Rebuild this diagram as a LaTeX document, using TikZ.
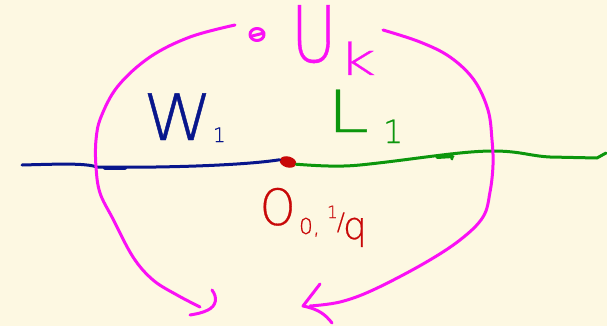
\documentclass[tikz,border=0pt]{standalone}
\usepackage{fontspec}
\setmainfont{DejaVu Sans ExtraLight}[FakeBold=0.6]
\usetikzlibrary{shapes.geometric}
\definecolor{bg}{RGB}{253,248,226}
\definecolor{navy}{RGB}{8,22,140}
\definecolor{grn}{RGB}{12,150,12}
\definecolor{redd}{RGB}{200,8,8}
\definecolor{mag}{RGB}{250,16,245}
\begin{document}
\begin{tikzpicture}[x=1pt,y=-1pt,
  ink/.style={line width=3pt,line cap=round,line join=round},
  lbl/.style={anchor=base west,inner sep=0pt,outer sep=0pt}]
\fill[bg] (0,0) rectangle (607,326);
\useasboundingbox (0,0) rectangle (607,326);
% red point
\node[ellipse,fill=redd,minimum width=17pt,minimum height=11pt,inner sep=0pt,rotate=-15] (dot) at (288,162) {};
% blue line W1
\coordinate (bstart) at (22,165);
\draw[ink,navy] (bstart) .. controls (60,164) and (85,163) .. (97,167)
   .. controls (150,168) and (240,166) .. (dot.west);
\draw[ink,navy,line width=4pt] (105,167.5) -- (125,167.5);
% green line L1
\coordinate (gend) at (606,153);
\draw[ink,grn] (dot.east) .. controls (320,166) and (340,167) .. (360,165)
   .. controls (410,160) and (460,151) .. (493,151)
   .. controls (520,151) and (530,156) .. (550,157)
   -- (597,158) -- (gend);
\draw[ink,grn] (437,157.5) -- (453,156.5);
\draw[ink,grn] (451,154) -- (452,159);
% magenta arcs
\coordinate (la) at (235,25);
\coordinate (lb) at (200,307);
\draw[ink,mag] plot[smooth,tension=0.6] coordinates {(la) (190,37) (150,57) (118,86) (101,117) (96,140) (96,167) (100,193) (113,219) (133,257) (153,280) (177,295) (lb)};
\draw[ink,mag] (212,290) .. controls (218,298) and (216,306) .. (208,310) .. controls (202,313) and (196,314) .. (190,315);
\coordinate (ra) at (383,30);
\coordinate (rb) at (310,306);
\draw[ink,mag] plot[smooth,tension=0.6] coordinates {(ra) (420,42) (450,57) (474,80) (488,110) (492,140) (493,165) (490,192) (483,217) (460,240) (423,264) (373,290) (340,302) (rb)};
\draw[ink,mag] (320,284) -- (303,306) .. controls (318,309) and (325,314) .. (332,323);
% scribble near U
\draw[ink,mag] (257,34.5) ellipse (7pt and 6pt);
\draw[ink,mag] (252,36) -- (264,33);
% labels
\node[lbl,navy,font=\fontsize{64}{64}\selectfont] (W) at (143,140) {\scalebox{1.1}[1]{W}};
\node[lbl,navy,font=\fontsize{20}{20}\selectfont] (W1) at (213,142) {1};
\node[lbl,grn,font=\fontsize{58}{58}\selectfont] (L) at (327,132) {\scalebox{1.3}[1]{L}};
\node[lbl,grn,font=\fontsize{32}{32}\selectfont] (L1) at (383,143) {1};
\node[lbl,mag,font=\fontsize{78}{78}\selectfont] (U) at (291,62) {\scalebox{0.8}[1]{U}};
\node[lbl,mag,font=\fontsize{44}{44}\selectfont] (k) at (338,75) {\scalebox{1.5}[1]{k}};
\node[lbl,redd,font=\fontsize{50}{50}\selectfont] (O) at (260,225) {\scalebox{0.9}[1]{O}};
\node[lbl,redd,font=\fontsize{22}{22}\selectfont] (O0) at (299,234) {0,};
\node[lbl,redd] (Oq) at (327,239) {{\fontsize{17}{17}\selectfont\raisebox{21pt}{1}}\kern-1pt{\fontsize{24}{24}\selectfont\raisebox{9pt}{/}}\kern-2pt{\fontsize{38}{38}\selectfont q}};
\end{tikzpicture}
\end{document}
